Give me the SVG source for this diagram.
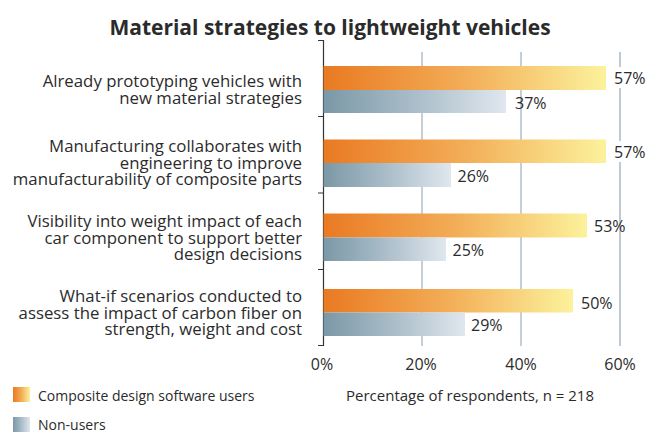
<svg xmlns="http://www.w3.org/2000/svg" width="655" height="432" viewBox="0 0 655 432">
<defs>
<linearGradient id="gOr" x1="0" y1="0" x2="1" y2="0">
<stop offset="0" stop-color="#e97a22"/>
<stop offset="0.5" stop-color="#f3ad57"/>
<stop offset="1" stop-color="#fcf29c"/>
</linearGradient>
<linearGradient id="gBl" x1="0" y1="0" x2="1" y2="0">
<stop offset="0" stop-color="#7b98a7"/>
<stop offset="0.5" stop-color="#aabdc9"/>
<stop offset="1" stop-color="#e0e7ee"/>
</linearGradient>
<style>
text{font-family:"Open Sans","Noto Sans",sans-serif;fill:#2b2b2b}
.title{font-size:21px;font-weight:bold;text-anchor:middle}
.cat{font-size:16.8px;text-anchor:end}
.val{font-size:16px}
.ax{font-size:16px;text-anchor:middle}
.leg{font-size:14px}
.grid{stroke:#8a9eb0;stroke-width:1}
.grid6{stroke:#bfcad4;stroke-width:2}
.axis{stroke:#333;stroke-width:1.2;fill:none}
.or{fill:url(#gOr)}
.bl{fill:url(#gBl)}
.bg{fill:#fff}
</style>
</defs>
<text class="title" x="330" y="35">Material strategies to lightweight vehicles</text>
<g id="grid">
<line class="grid" x1="422" y1="52" x2="422" y2="346"/>
<line class="grid" x1="521" y1="52" x2="521" y2="346"/>
<line class="grid6" x1="620" y1="52" x2="620" y2="346"/>
</g>
<g id="axis">
<path class="axis" d="M318,40.5H323.5V346M318,116.5H323.5M318,193H323.5M318,269.5H323.5M318,345.5H323.5"/>
<text class="ax" x="322" y="370">0%</text>
<text class="ax" x="421" y="370">20%</text>
<text class="ax" x="521" y="370">40%</text>
<text class="ax" x="620" y="370">60%</text>
</g>
<g id="cat1">
<text class="cat" x="302" y="87">Already prototyping vehicles with</text>
<text class="cat" x="302" y="103.5">new material strategies</text>
<rect class="or" x="323.5" y="66" width="282.5" height="24"/>
<rect class="bl" x="323.5" y="90" width="182.5" height="23"/>
<rect class="bg" x="612" y="67" width="34" height="21"/>
<text class="val" x="614" y="84">57%</text>
<text class="val" x="515" y="109">37%</text>
</g>
<g id="cat2">
<text class="cat" x="302" y="152">Manufacturing collaborates with</text>
<text class="cat" x="302" y="168.5">engineering to improve </text>
<text class="cat" x="302" y="185">manufacturability of composite parts</text>
<rect class="or" x="323.5" y="139.5" width="282.5" height="23.5"/>
<rect class="bl" x="323.5" y="163" width="127.5" height="24"/>
<rect class="bg" x="612" y="141" width="34" height="21"/>
<text class="val" x="614" y="158">57%</text>
<text class="val" x="457.5" y="181.5">26%</text>
</g>
<g id="cat3">
<text class="cat" x="302" y="227">Visibility into weight impact of each</text>
<text class="cat" x="302" y="243.5">car component to support better</text>
<text class="cat" x="302" y="260">design decisions</text>
<rect class="or" x="323.5" y="213.5" width="263.5" height="24"/>
<rect class="bl" x="323.5" y="237.5" width="122.5" height="23.5"/>
<text class="val" x="594" y="232">53%</text>
<text class="val" x="452.5" y="256">25%</text>
</g>
<g id="cat4">
<text class="cat" x="302" y="302">What-if scenarios conducted to</text>
<text class="cat" x="302" y="318.5">assess the impact of carbon fiber on</text>
<text class="cat" x="302" y="335">strength, weight and cost</text>
<rect class="or" x="323.5" y="289" width="249.5" height="23.5"/>
<rect class="bl" x="323.5" y="312.5" width="141.5" height="23.5"/>
<text class="val" x="581" y="309">50%</text>
<text class="val" x="471" y="330.5">29%</text>
</g>
<g id="xlabel">
<text class="ax" x="470" y="401" style="font-size:15px">Percentage of respondents, n = 218</text>
</g>
<g id="legend">
<rect class="or" x="13" y="387" width="17" height="15"/>
<text class="leg" x="38" y="401">Composite design software users</text>
<rect class="bl" x="13" y="417" width="17" height="15"/>
<text class="leg" x="38" y="430">Non-users</text>
</g>
</svg>
